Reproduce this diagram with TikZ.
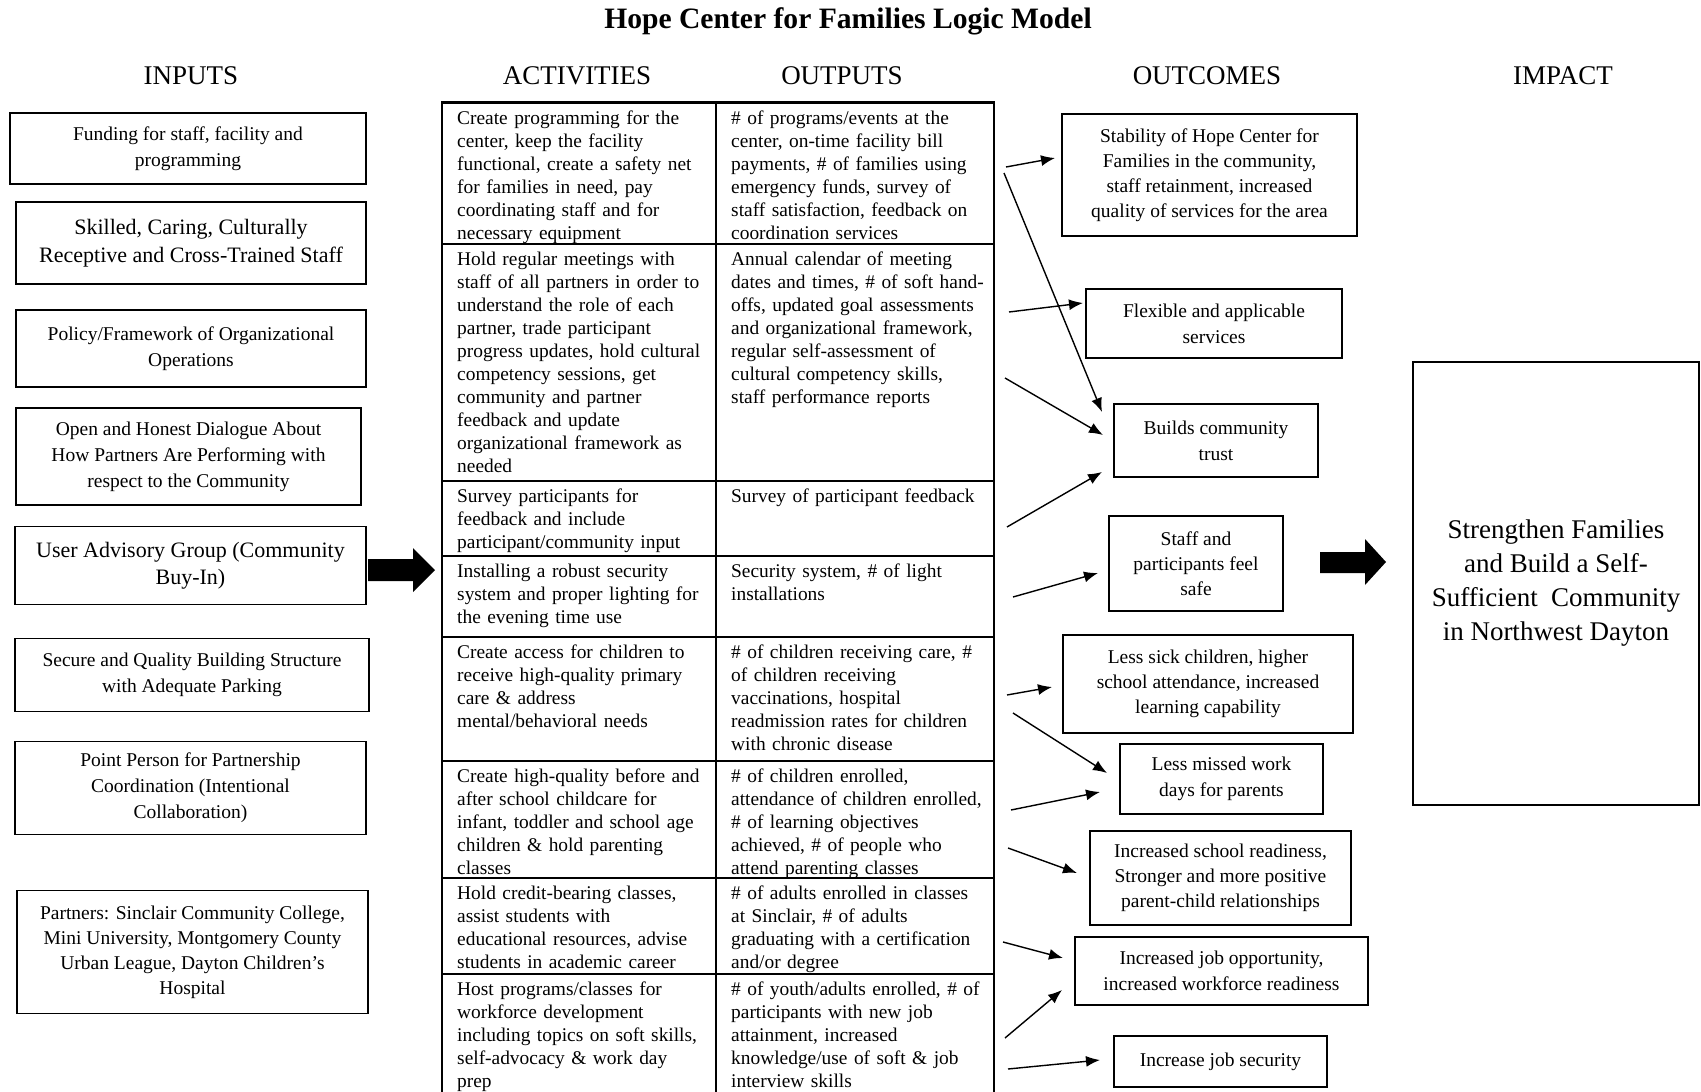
\documentclass[tikz,border=0pt]{standalone}
\usepackage{fontspec}
\setmainfont{Liberation Serif}
\usetikzlibrary{arrows.meta}

\tikzset{
  inbox/.style n args={2}{draw, line width=1.6pt, inner sep=0pt, align=center,
    minimum width=#1, minimum height=#2, font=\fontsize{19.5}{26}\selectfont},
  bigtext/.style={font=\fontsize{22}{27.5}\selectfont},
  cell/.style={anchor=north west, inner xsep=15pt, inner ysep=5pt, align=left,
    text width=265pt, font=\fontsize{19.4}{23}\selectfont, execute at begin node=\strut},
  colhead/.style={font=\fontsize{27}{32}\selectfont},
  thin/.style={->, line width=1.4pt},
}

\begin{document}
\begin{tikzpicture}[x=1pt, y=-1pt, >={Latex[length=14pt,width=11pt]}]
    \useasboundingbox (0,0) rectangle (1701,1092);
    % title and column heads
    \node[font=\fontsize{29.6}{34}\selectfont\bfseries] (title) at (848,21) {Hope Center for Families Logic Model};
    \node[colhead] (hin) at (191,76) {INPUTS};
    \node[colhead] (hact) at (577,76) {ACTIVITIES};
    \node[colhead] (hout) at (842,76) {OUTPUTS};
    \node[colhead] (hoc) at (1207,76) {OUTCOMES};
    \node[colhead] (himp) at (1563,76) {IMPACT};

    % inputs
    \node[inbox={356}{71}] (in1) at (188,148.5) {Funding for staff, facility and\\programming};
    \node[inbox={350}{82}, bigtext] (in2) at (191,243) {Skilled, Caring, Culturally\\Receptive and Cross-Trained Staff};
    \node[inbox={350}{77}] (in3) at (191,348.5) {Policy/Framework of Organizational\\Operations};
    \node[inbox={345}{97}] (in4) at (188.5,456.5) {Open and Honest Dialogue About\\How Partners Are Performing with\\respect to the Community};
    \node[inbox={351}{78}, bigtext] (in5) at (190.5,565.5) {User Advisory Group (Community\\Buy-In)};
    \node[inbox={354}{73}] (in6) at (192,674.8) {Secure and Quality Building Structure\\with Adequate Parking};
    \node[inbox={351}{93}] (in7) at (190.5,787.9) {Point Person for Partnership\\Coordination (Intentional\\Collaboration)};
    \node[inbox={351}{123}, font=\fontsize{19.5}{25}\selectfont] (in8) at (192.5,952) {Partners: Sinclair Community College,\\Mini University, Montgomery County\\Urban League, Dayton Children’s\\Hospital};

    \fill (368,559) -- (413,559) -- (413,548) -- (435,570) -- (413,592) -- (413,581) -- (368,581) -- cycle;

    % activities / outputs table
    \draw[line width=3pt] (441,102) -- (995,102);
    \draw[line width=1.6pt] (442,1092) -- (442,103) -- (994,103) -- (994,1092);
    \draw[line width=1.6pt] (716,103) -- (716,1092);
    \draw[line width=1.6pt] (442,244) -- (994,244);
    \draw[line width=1.6pt] (442,481) -- (994,481);
    \draw[line width=1.6pt] (442,556) -- (994,556);
    \draw[line width=1.6pt] (442,637) -- (994,637);
    \draw[line width=1.6pt] (442,761) -- (994,761);
    \draw[line width=1.6pt] (442,878) -- (994,878);
    \draw[line width=1.6pt] (442,974) -- (994,974);

    \node[cell] (act1) at (442,103) {Create programming for the\\center, keep the facility\\functional, create a safety net\\for families in need, pay\\coordinating staff and for\\necessary equipment};
    \node[cell] (out1) at (716,103) {\# of programs/events at the\\center, on-time facility bill\\payments, \# of families using\\emergency funds, survey of\\staff satisfaction, feedback on\\coordination services};
    \node[cell] (act2) at (442,244) {Hold regular meetings with\\staff of all partners in order to\\understand the role of each\\partner, trade participant\\progress updates, hold cultural\\competency sessions, get\\community and partner\\feedback and update\\organizational framework as\\needed};
    \node[cell] (out2) at (716,244) {Annual calendar of meeting\\dates and times, \# of soft hand-\\offs, updated goal assessments\\and organizational framework,\\regular self-assessment of\\cultural competency skills,\\staff performance reports};
    \node[cell] (act3) at (442,481) {Survey participants for\\feedback and include\\participant/community input};
    \node[cell] (out3) at (716,481) {Survey of participant feedback};
    \node[cell] (act4) at (442,556) {Installing a robust security\\system and proper lighting for\\the evening time use};
    \node[cell] (out4) at (716,556) {Security system, \# of light\\installations};
    \node[cell] (act5) at (442,637) {Create access for children to\\receive high-quality primary\\care \& address\\mental/behavioral needs};
    \node[cell] (out5) at (716,637) {\# of children receiving care, \#\\of children receiving\\vaccinations, hospital\\readmission rates for children\\with chronic disease};
    \node[cell] (act6) at (442,761) {Create high-quality before and\\after school childcare for\\infant, toddler and school age\\children \& hold parenting\\classes};
    \node[cell] (out6) at (716,761) {\# of children enrolled,\\attendance of children enrolled,\\\# of learning objectives\\achieved, \# of people who\\attend parenting classes};
    \node[cell] (act7) at (442,878) {Hold credit-bearing classes,\\assist students with\\educational resources, advise\\students in academic career};
    \node[cell] (out7) at (716,878) {\# of adults enrolled in classes\\at Sinclair, \# of adults\\graduating with a certification\\and/or degree};
    \node[cell] (act8) at (442,974) {Host programs/classes for\\workforce development\\including topics on soft skills,\\self-advocacy \& work day\\prep};
    \node[cell] (out8) at (716,974) {\# of youth/adults enrolled, \# of\\participants with new job\\attainment, increased\\knowledge/use of soft \& job\\interview skills};

    % outcomes
    \node[inbox={295}{122}, font=\fontsize{19.5}{25}\selectfont] (oc1) at (1209.5,175) {Stability of Hope Center for\\Families in the community,\\staff retainment, increased\\quality of services for the area};
    \node[inbox={256}{69}] (oc2) at (1214,323.5) {Flexible and applicable\\services};
    \node[inbox={204}{73}] (oc3) at (1216,440.5) {Builds community\\trust};
    \node[inbox={174}{95}, font=\fontsize{19.5}{25}\selectfont] (oc4) at (1196,563.5) {Staff and\\participants feel\\safe};
    \node[inbox={290}{98}, font=\fontsize{19.5}{25}\selectfont] (oc5) at (1208,684) {Less sick children, higher\\school attendance, increased\\learning capability};
    \node[inbox={203}{70}] (oc6) at (1221.5,779) {Less missed work\\days for parents};
    \node[inbox={261}{94}, font=\fontsize{19.5}{25}\selectfont] (oc7) at (1220.5,878) {Increased school readiness,\\Stronger and more positive\\parent-child relationships};
    \node[inbox={293}{68}] (oc8) at (1221.5,971) {Increased job opportunity,\\increased workforce readiness};
    \node[inbox={213}{51}] (oc9) at (1220.5,1061.5) {Increase job security};

    \fill (1320,552) -- (1365,552) -- (1365,539) -- (1386,562) -- (1365,585) -- (1365,573) -- (1320,573) -- cycle;

    % impact
    \node[inbox={286}{443}, font=\fontsize{27}{34}\selectfont] (imp) at (1556,583.5) {Strengthen Families\\and Build a Self-\\Sufficient\ \ Community\\in Northwest Dayton};

    % thin arrows to the outcomes
    \coordinate (s1) at (1006,167);  \coordinate (t1) at (1055,158);
    \coordinate (s2) at (1004,173);  \coordinate (t2) at (1102,412);
    \coordinate (s3) at (1009,312);  \coordinate (t3) at (1083,303);
    \coordinate (s4) at (1005,378);  \coordinate (t4) at (1103,435);
    \coordinate (s5) at (1007,527);  \coordinate (t5) at (1102,472);
    \coordinate (s6) at (1013,597);  \coordinate (t6) at (1098,573);
    \coordinate (s7) at (1007,695);  \coordinate (t7) at (1052,687);
    \coordinate (s8) at (1013,713);  \coordinate (t8) at (1107,773);
    \coordinate (s9) at (1011,810);  \coordinate (t9) at (1100,792);
    \coordinate (s10) at (1008,848); \coordinate (t10) at (1077,873);
    \coordinate (s11) at (1003,942); \coordinate (t11) at (1063,958);
    \coordinate (s12) at (1005,1038); \coordinate (t12) at (1062,990);
    \coordinate (s13) at (1008,1069); \coordinate (t13) at (1100,1060);
    \draw[thin] (s1) -- (t1);
    \draw[thin] (s2) -- (t2);
    \draw[thin] (s3) -- (t3);
    \draw[thin] (s4) -- (t4);
    \draw[thin] (s5) -- (t5);
    \draw[thin] (s6) -- (t6);
    \draw[thin] (s7) -- (t7);
    \draw[thin] (s8) -- (t8);
    \draw[thin] (s9) -- (t9);
    \draw[thin] (s10) -- (t10);
    \draw[thin] (s11) -- (t11);
    \draw[thin] (s12) -- (t12);
    \draw[thin] (s13) -- (t13);
\end{tikzpicture}
\end{document}
